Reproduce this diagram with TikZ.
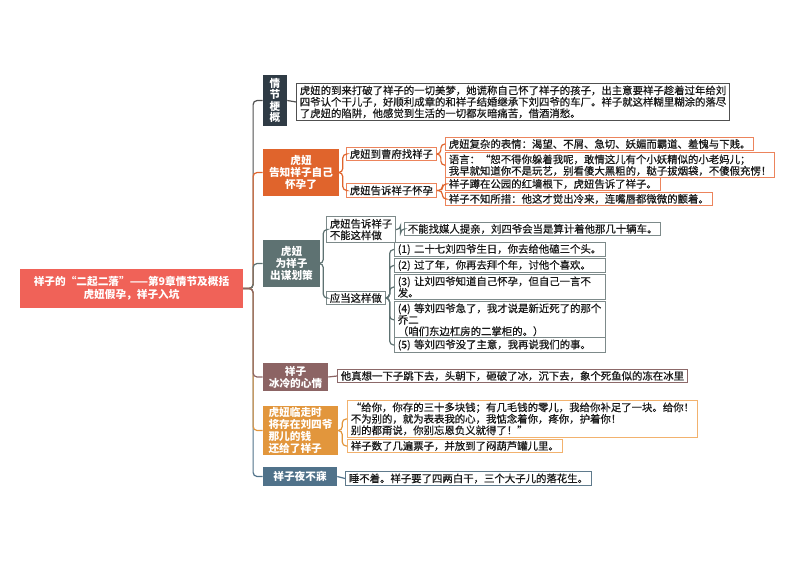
\documentclass[tikz,border=0pt]{standalone}
\usepackage{fontspec}
\setmainfont{Noto Sans CJK SC}
\newfontfamily\leaffont{Noto Sans CJK SC}[FakeBold=0.6]
\usetikzlibrary{positioning}

\definecolor{rootred}{RGB}{240,98,88}
\definecolor{cA}{RGB}{47,59,69}
\definecolor{cB}{RGB}{224,100,44}
\definecolor{cC}{RGB}{94,114,114}
\definecolor{cD}{RGB}{140,100,100}
\definecolor{cE}{RGB}{226,150,60}
\definecolor{cF}{RGB}{80,114,138}
\definecolor{lA}{RGB}{80,80,80}
\definecolor{lB}{RGB}{236,132,92}
\definecolor{lC}{RGB}{125,138,138}
\definecolor{lD}{RGB}{140,105,105}
\definecolor{lE}{RGB}{242,178,110}
\definecolor{lF}{RGB}{95,122,140}
\definecolor{inkgray}{RGB}{25,25,25}

\begin{document}
\begin{tikzpicture}[x=0.75pt,y=0.75pt,yscale=-1,xscale=1,
  root/.style={fill=rootred,text=white,font=\bfseries\fontsize{8}{9.5}\selectfont,align=center,minimum width=167pt,minimum height=29pt,inner sep=0pt},
  topic/.style={fill=#1,text=white,font=\bfseries\fontsize{8}{9}\selectfont,align=center,inner sep=0pt},
  leaf/.style={draw=#1,fill=white,line width=0.75pt,text=inkgray,font=\leaffont\fontsize{7.8}{8.6}\selectfont,align=left,inner xsep=2.5pt,inner ysep=1.5pt},
  plan/.style={text width=153pt},
  link/.style={draw=#1,line width=0.9pt,rounded corners=3pt}]
%set diagram to the page: 793 x 561
\fill[white] (0,0) rectangle (793,561);
\useasboundingbox (0,0) rectangle (793,561);

%Root
\node[root] (zhuti) at (131.5,288.5) {祥子的“二起二落”——第9章情节及概括\\虎妞假孕，祥子入坑};

%Main topics
\node[topic=cA,minimum width=18pt,minimum height=38.25pt,font=\bfseries\fontsize{8}{8.4}\selectfont] (gaikuo) at (275,100.5) {情\\节\\梗\\概};
\node[topic=cB,minimum width=57pt,minimum height=35.25pt] (huaiyun) at (301,172.5) {虎妞\\告知祥子自己\\怀孕了};
\node[topic=cC,minimum width=42.75pt,minimum height=35.25pt] (moulue) at (291.5,263.5) {虎妞\\为祥子\\出谋划策};
\node[topic=cD,minimum width=48.75pt,minimum height=21pt] (xinqing) at (295.5,377) {祥子\\冰冷的心情};
\node[topic=cE,minimum width=56.25pt,minimum height=36.75pt,align=left] (huanqian) at (300.5,430.5) {虎妞临走时\\将存在刘四爷\\那儿的钱\\还给了祥子};
\node[topic=cF,minimum width=55.5pt,minimum height=14.25pt] (yebumei) at (300,476.5) {祥子夜不寐};

%Subtopics
\node[leaf=lB,anchor=west] (caofu) at (346,154) {虎妞到曹府找祥子};
\node[leaf=lB,anchor=west] (gaosu) at (346,190.5) {虎妞告诉祥子怀孕};
\node[leaf=lC,anchor=west] (buneng) at (326,229.5) {虎妞告诉祥子\\不能这样做};
\node[leaf=lC,anchor=west] (yingdang) at (326,298) {应当这样做};

%Details
\node[leaf=lA,anchor=north west] (jieshao) at (296,83) {虎妞的到来打破了祥子的一切美梦，她谎称自己怀了祥子的孩子，出主意要祥子趁着过年给刘\\四爷认个干儿子，好顺利成章的和祥子结婚继承下刘四爷的车厂。祥子就这样糊里糊涂的落尽\\了虎妞的陷阱，他感觉到生活的一切都灰暗痛苦，借酒消愁。};
\node[leaf=lB,anchor=west] (biaoqing) at (445,144) {虎妞复杂的表情：渴望、不屑、急切、妖媚而霸道、羞愧与下贱。};
\node[leaf=lB,anchor=north west] (yuyan) at (445,152) {语言：“恕不得你躲着我呢，敢情这儿有个小妖精似的小老妈儿；\\我早就知道你不是玩艺，别看傻大黑粗的，鞑子拔烟袋，不傻假充愣！};
\node[leaf=lB,anchor=west] (hongqiang) at (445,184) {祥子蹲在公园的红墙根下，虎妞告诉了祥子。};
\node[leaf=lB,anchor=west] (cuoshou) at (445,199) {祥子不知所措：他这才觉出冷来，连嘴唇都微微的颤着。};
\node[leaf=lC,anchor=west] (meiren) at (404,229) {不能找媒人提亲，刘四爷会当是算计着他那几十辆车。};
\node[leaf=lC,plan,anchor=west] (bu1) at (394,249.5) {(1)~二十七刘四爷生日，你去给他磕三个头。};
\node[leaf=lC,plan,anchor=west] (bu2) at (394,265.5) {(2)~过了年，你再去拜个年，讨他个喜欢。};
\node[leaf=lC,plan,anchor=north west] (bu3) at (394,274) {(3)~让刘四爷知道自己怀孕，但自己一言不\\发。};
\node[leaf=lC,plan,anchor=north west] (bu4) at (394,301) {(4)~等刘四爷急了，我才说是新近死了的那个\\乔二\\（咱们东边杠房的二掌柜的。）};
\node[leaf=lC,plan,anchor=west] (bu5) at (394,345) {(5)~等刘四爷没了主意，我再说我们的事。};
\node[leaf=lD,anchor=west] (bingli) at (337,376) {他真想一下子跳下去，头朝下，砸破了冰，沉下去，象个死鱼似的冻在冰里};
\node[leaf=lE,anchor=north west] (gei) at (347,400) {“给你，你存的三十多块钱；有几毛钱的零儿，我给你补足了一块。给你！\\不为别的，就为表表我的心，我惦念着你，疼你，护着你！\\别的都甭说，你别忘恩负义就得了！”};
\node[leaf=lE,anchor=west] (piaozi) at (347,446) {祥子数了几遍票子，并放到了闷葫芦罐儿里。};
\node[leaf=lF,anchor=west] (huasheng) at (345,478.5) {睡不着。祥子要了四两白干，三个大子儿的落花生。};

%Connectors from root
\draw[link=lA] (zhuti.east) -- ++(10,0) |- (gaikuo.west);
\draw[link=cB] (zhuti.east) -- ++(10,0) |- (huaiyun.west);
\draw[link=cC] (zhuti.east) -- ++(10,0) |- (moulue.west);
\draw[link=cF] (zhuti.east) -- ++(10,0) |- (yebumei.west);
\draw[link=cE] (zhuti.east) -- ++(10,0) |- (huanqian.west);
\draw[link=cD] (zhuti.east) -- ++(10,0) |- (xinqing.west);

%Connectors inside branches
\draw[link=lA] (gaikuo.east) -- (jieshao.west);
\draw[link=cB] (huaiyun.east) -- ++(3.5,0) |- (caofu.west);
\draw[link=cB] (huaiyun.east) -- ++(3.5,0) |- (gaosu.west);
\draw[link=cB] (caofu.east) -- ++(4,0) |- (biaoqing.west);
\draw[link=cB] (caofu.east) -- ++(4,0) |- (yuyan.west);
\draw[link=cB] (gaosu.east) -- ++(5.5,0) |- (hongqiang.west);
\draw[link=cB] (gaosu.east) -- ++(5.5,0) |- (cuoshou.west);
\draw[link=cC] (moulue.east) -- ++(3,0) |- (buneng.west);
\draw[link=cC] (moulue.east) -- ++(3,0) |- (yingdang.west);
\draw[link=cC] (buneng.east) -- ++(4.5,0) |- (meiren.west);
\foreach \n in {bu1,bu2,bu3,bu4,bu5}
  \draw[link=cC] (yingdang.east) -- ++(4,0) |- (\n.west);
\draw[link=cD] (xinqing.east) -- (bingli.west);
\draw[link=cE] (huanqian.east) -- ++(4,0) |- (gei.west);
\draw[link=cE] (huanqian.east) -- ++(4,0) |- (piaozi.west);
\draw[link=cF] (yebumei.east) -- (huasheng.west);

\end{tikzpicture}
\end{document}
